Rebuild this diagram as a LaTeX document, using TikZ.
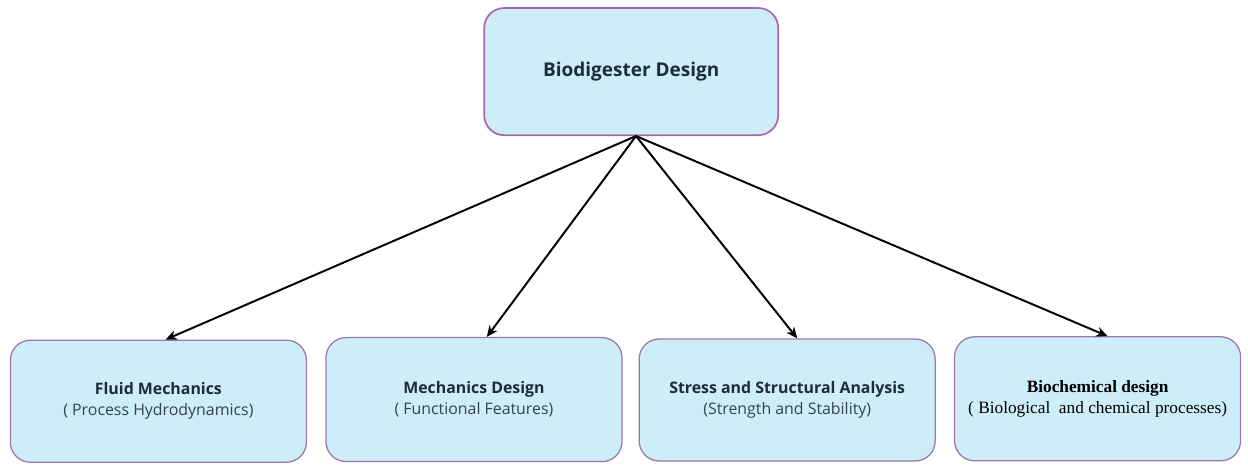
\documentclass[tikz,border=0pt]{standalone}
\usepackage{fontspec}
\setsansfont{Open Sans}
\newfontfamily\timesfont{Liberation Serif}
\usepackage{xcolor}
\usepackage{tikz}
\usetikzlibrary{arrows.meta, positioning}

\definecolor{boxfill}{HTML}{CDEDF8}
\definecolor{boxline}{HTML}{9C78AA}
\definecolor{topline}{HTML}{A866B0}
\definecolor{labeltext}{HTML}{1B2C3A}
\definecolor{subtext}{HTML}{34434F}

\begin{document}
\begin{tikzpicture}[
    block/.style={rectangle, rounded corners=0.5cm, draw=boxline, line width=0.9pt, fill=boxfill,
      minimum width=7.4cm, minimum height=3.05cm, align=center, text=labeltext,
      font=\sffamily\fontsize{11.3}{15}\selectfont},
    arrow/.style={line width=1.4pt, -{Stealth[length=8pt, width=7pt, inset=2.5pt]}}]

    \useasboundingbox (0,0) rectangle (31.2,-11.6);

    % Top node
    \node [block, draw=topline, line width=1.2pt, minimum width=7.35cm, minimum height=3.18cm,
      font=\sffamily\fontsize{13.5}{15}\selectfont] (digester) at (15.78,-1.79) {\textbf{Biodigester Design}};
    \coordinate (apex) at ([xshift=0.12cm]digester.south);

    % Design areas
    \node [block] (fluid) at (3.96,-10.03)
      {\textbf{Fluid Mechanics}\\ \color{subtext}( Process Hydrodynamics)};
    \node [block, minimum height=3.1cm] (mech) at (11.85,-9.99)
      {\textbf{Mechanics Design}\\ \color{subtext}( Functional Features)};
    \node [block] (stress) at (19.68,-10.0)
      {\textbf{Stress and Structural Analysis}\\ \color{subtext}(Strength and Stability)};
    \node [block, minimum width=7.15cm, minimum height=3.1cm, text=black,
      font=\timesfont\fontsize{12.3}{15}\selectfont] (biochem) at (27.44,-9.97)
      {\textbf{Biochemical design}\\ ( Biological\ \ and chemical processes)};

    % Arrows
    \draw [arrow] (apex) -- ([xshift=0.18cm]fluid.north);
    \draw [arrow] (apex) -- ([xshift=0.32cm]mech.north);
    \draw [arrow] (apex) -- ([xshift=0.25cm]stress.north);
    \draw [arrow] (apex) -- ([xshift=0.25cm]biochem.north);
\end{tikzpicture}
\end{document}
